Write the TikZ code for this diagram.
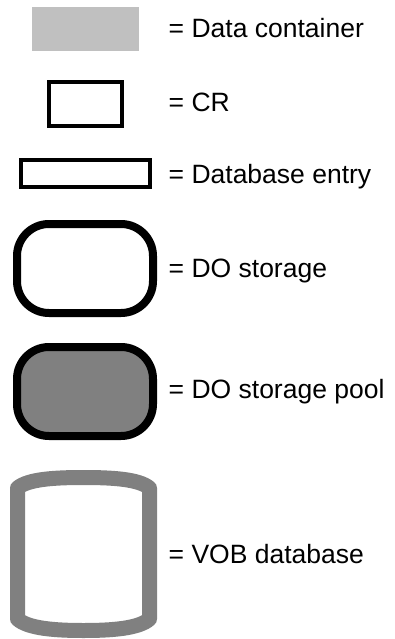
\documentclass[tikz,border=0pt]{standalone}
\usepackage{fontspec}
\setmainfont{Liberation Sans}
\definecolor{containergray}{HTML}{C0C0C0}
\definecolor{poolgray}{HTML}{808080}
\begin{document}
\begin{tikzpicture}[x=1pt,y=-1pt,
  legendtext/.style={anchor=base west, inner sep=0pt, font=\fontsize{26.5}{30}\selectfont},
  container/.style={rectangle, fill=containergray, draw=none, inner sep=0pt},
  crbox/.style={rectangle, draw=black, line width=4pt, fill=white, inner sep=0pt},
  storage/.style={rectangle, draw=black, line width=8pt, rounded corners=32pt, inner sep=0pt,
    minimum width=136pt, minimum height=89pt},
  vob/.style={draw=poolgray, line width=15pt, line join=round, fill=white}]
\useasboundingbox (0,0) rectangle (395,639);

% legend symbols
\node[container, minimum width=107pt, minimum height=44pt] (dc) at (85.5,29) {};
\node[crbox, minimum width=73.6pt, minimum height=44pt] (cr) at (85.5,104) {};
\node[crbox, minimum width=128.7pt, minimum height=27pt] (dbe) at (85.4,173.5) {};
\node[storage, fill=white] (dos) at (85,268.5) {};
\node[storage, fill=poolgray] (pool) at (85,391.5) {};

% VOB database cylinder
\draw[vob] (17.5,488)
  .. controls (28,479) and (55,477.5) .. (83.5,477.5)
  .. controls (112,477.5) and (139,479) .. (149.5,488)
  -- (149.5,619)
  .. controls (139,628.5) and (112,630.5) .. (83.5,630.5)
  .. controls (55,630.5) and (28,628.5) .. (17.5,619)
  -- cycle;
\coordinate (vobdb) at (83.5,553);

% legend captions
\node[legendtext] (tdc) at (168.5,38) {= Data container};
\node[legendtext] (tcr) at (168.5,112) {= CR};
\node[legendtext] (tdbe) at (168.5,183) {= Database entry};
\node[legendtext] (tdos) at (168.5,277) {= DO storage};
\node[legendtext] (tpool) at (168.5,398) {= DO storage pool};
\node[legendtext] (tvob) at (168.5,563) {= VOB database};
\end{tikzpicture}
\end{document}
